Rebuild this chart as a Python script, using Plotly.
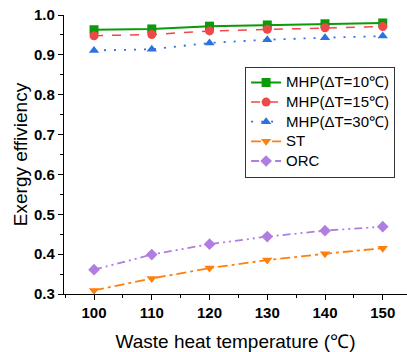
import plotly.graph_objects as go

temps = [100, 110, 120, 130, 140, 150]
mhp10 = [0.963, 0.965, 0.972, 0.975, 0.978, 0.980]
mhp15 = [0.948, 0.951, 0.960, 0.964, 0.968, 0.971]
mhp30 = [0.911, 0.914, 0.930, 0.938, 0.943, 0.947]
st = [0.309, 0.339, 0.365, 0.385, 0.401, 0.415]
orc = [0.361, 0.399, 0.425, 0.444, 0.459, 0.469]

series = [
    ("MHP(ΔT=10℃)", mhp10, "#0a9a0a", "solid", "square", 2),
    ("MHP(ΔT=15℃)", mhp15, "#f04848", "dash", "circle", 1.5),
    ("MHP(ΔT=30℃)", mhp30, "#2a72e0", "2px,8px", "triangle-up", 1.8),
    ("ST", st, "#ff7f0e", "10px,4px,3px,4px", "triangle-down", 1.8),
    ("ORC", orc, "#b07ee0", "8px,4px,2px,4px,2px,4px", "diamond", 1.8),
]

fig = go.Figure()
for name, y, c, dash, sym, w in series:
    fig.add_trace(go.Scatter(
        x=temps, y=y, name=f'<span style="font-size:15px">{name}</span>',
        mode="lines+markers",
        line=dict(color=c, dash=dash, width=w),
        marker=dict(symbol=sym, size=9, color=c),
    ))

fig.update_layout(
    width=407, height=352,
    margin=dict(l=64, r=0, t=15, b=58),
    paper_bgcolor="white", plot_bgcolor="white",
    font=dict(family="Liberation Sans, Arial", color="black"),
    showlegend=True,
    legend=dict(
        x=0.528, y=0.815, xanchor="left", yanchor="top",
        bordercolor="#333", borderwidth=1, bgcolor="white",
        font=dict(size=12.8), tracegroupgap=0, itemwidth=30,
    ),
    xaxis=dict(
        range=[94.8, 154.2], tickvals=temps, showline=True, linecolor="black",
        linewidth=1.2, ticks="outside", ticklen=5, tickcolor="black", showgrid=False,
        zeroline=False, tickfont=dict(size=15, weight="bold"), automargin=False,
        minor=dict(tickvals=[95, 105, 115, 125, 135, 145], ticks="outside", ticklen=3, tickcolor="black"),
        title=dict(text="Waste heat temperature (℃)", font=dict(size=19), standoff=16),
    ),
    yaxis=dict(
        range=[0.3, 1.0], dtick=0.1, tickformat=".1f", showline=True, linecolor="black",
        linewidth=1.2, ticks="outside", ticklen=5, tickcolor="black", showgrid=False,
        zeroline=False, tickfont=dict(size=15, weight="bold"), automargin=False,
        minor=dict(dtick=0.05, ticks="outside", ticklen=3, tickcolor="black"),
        title=dict(text="Exergy effiviency", font=dict(size=19), standoff=1),
    ),
)

fig.write_html(
    "out.html",
    config={"displayModeBar": False},
    post_script="document.body.style.margin='0';document.body.style.overflow='hidden';",
)
